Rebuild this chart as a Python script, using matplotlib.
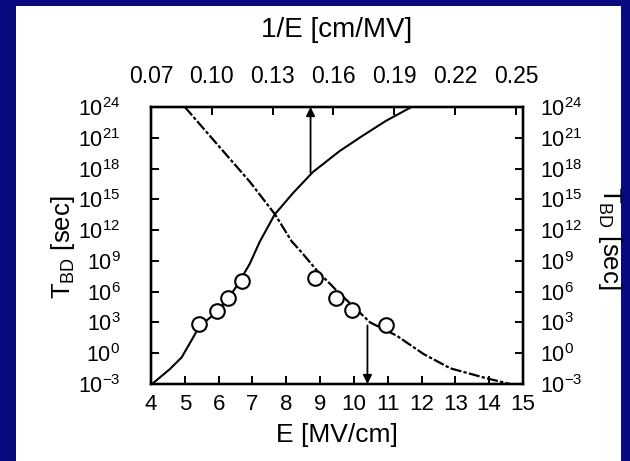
import math
import matplotlib
matplotlib.use("Agg")
import matplotlib.pyplot as plt
from matplotlib.patches import Rectangle
from matplotlib.ticker import FixedLocator, FuncFormatter, NullLocator

plt.rcParams['font.family'] = ['Liberation Sans', 'DejaVu Sans']
plt.rcParams['mathtext.fontset'] = 'custom'
plt.rcParams['mathtext.rm'] = 'Liberation Sans'
plt.rcParams['mathtext.it'] = 'Liberation Sans:italic'
plt.rcParams['mathtext.bf'] = 'Liberation Sans:bold'

# E-model fit: breakdown time vs field (bottom axis)
e_fit = [5.0, 5.94, 6.63, 6.93, 7.67, 8.16, 8.41, 8.95, 9.30, 9.49, 10.48, 11.27, 12.06, 12.85, 13.93, 14.62]
log_t_e_fit = [24.0, 20.43, 17.82, 16.68, 13.52, 10.9, 10.0, 7.89, 6.75, 6.10, 3.0, 1.70, -0.08, -1.47, -2.45, -3.0]

# 1/E-model fit: breakdown time vs inverse field (top axis)
inv_e_fit = [0.0705, 0.0793, 0.0851, 0.0908, 0.0938, 0.1023, 0.108, 0.1129, 0.1187, 0.1236, 0.131, 0.140, 0.1498, 0.163, 0.1744, 0.1859, 0.1985]
log_t_inv_fit = [-3.0, -1.55, -0.41, 1.54, 2.6, 3.98, 5.29, 6.75, 8.71, 10.85, 13.52, 15.6, 17.65, 19.7, 21.2, 22.65, 24.0]

# Measured breakdown times
e_meas = [8.85, 9.46, 9.95, 10.95]
log_t_e_meas = [7.34, 5.37, 4.18, 2.71]
inv_e_meas = [0.0938, 0.1028, 0.1080, 0.1151]
log_t_inv_meas = [2.8, 4.1, 5.35, 7.0]

# Arrows pointing to the axis each curve belongs to
arrow_e = 10.4
arrow_e_from = 2.7
arrow_inv = 0.1487
arrow_inv_from = 17.6

x_ticks = list(range(4, 16))
top_ticks = [0.07, 0.10, 0.13, 0.16, 0.19, 0.22, 0.25]
top_labels = ['0.07', '0.10', '0.13', '0.16', '0.19', '0.22', '0.25']
y_exps = list(range(-3, 25, 3))

W, H = 630, 461
fig = plt.figure(figsize=(W / 100, H / 100), dpi=100)
fig.patch.set_facecolor('#0a0a80')
panel = Rectangle((16 / W, 0), (621 - 16) / W, (H - 6) / H,
                  transform=fig.transFigure, facecolor='white',
                  edgecolor='none', zorder=-10)
fig.add_artist(panel)

L, R, T, B = 151, 523, 107, 384
ax = fig.add_axes([L / W, 1 - B / H, (R - L) / W, (B - T) / H])
ax.set_facecolor('none')
ax.set_yscale('log')
ax.set_xlim(4, 15)
ax.set_ylim(1e-3, 1e24)

axt = ax.twiny()
axt.set_facecolor('none')
axt.set_xlim(0.07, 0.2535)

axr = ax.twinx()
axr.set_facecolor('none')
axr.set_yscale('log')
axr.set_ylim(1e-3, 1e24)


def pw(v):
    return [10.0 ** k for k in v]


ax.plot(e_fit, pw(log_t_e_fit), color='black', lw=1.6,
        linestyle=(0, (5, 1.0, 1.5, 1.0)), zorder=3)
axt.plot(inv_e_fit, pw(log_t_inv_fit), color='black', lw=1.5, zorder=3)
ax.plot(e_meas, pw(log_t_e_meas), 'o', ms=10.5, mfc='white', mec='black', mew=1.5, zorder=4)
axt.plot(inv_e_meas, pw(log_t_inv_meas), 'o', ms=10.5, mfc='white', mec='black', mew=1.5, zorder=4)

ax.annotate('', xy=(arrow_e, 1e-3), xytext=(arrow_e, 10 ** arrow_e_from),
            arrowprops=dict(arrowstyle='-|>', color='black', lw=1.3, mutation_scale=13,
                            shrinkA=0, shrinkB=0), zorder=5)
axt.annotate('', xy=(arrow_inv, 1e24), xytext=(arrow_inv, 10 ** arrow_inv_from),
             arrowprops=dict(arrowstyle='-|>', color='black', lw=1.3, mutation_scale=13,
                             shrinkA=0, shrinkB=0), zorder=5)

log_fmt = FuncFormatter(lambda v, p: r'$\mathregular{10^{%d}}$' % round(math.log10(v)))

ax.xaxis.set_major_locator(FixedLocator(x_ticks))
ax.set_xticklabels([str(v) for v in x_ticks])
for a in (ax, axr):
    a.yaxis.set_major_locator(FixedLocator(pw(y_exps)))
    a.yaxis.set_minor_locator(NullLocator())
    a.yaxis.set_major_formatter(log_fmt)
axt.xaxis.set_major_locator(FixedLocator(top_ticks))
axt.set_xticklabels(top_labels)

for a in (ax, axt, axr):
    for s in a.spines.values():
        s.set_linewidth(1.6)

ax.tick_params(axis='x', which='major', direction='in', length=6, width=1.4,
               labelsize=16, pad=7, top=False)
ax.tick_params(axis='y', which='major', direction='in', length=6, width=1.4,
               labelsize=15.5, left=True, right=False, pad=22)
axr.tick_params(axis='y', which='major', direction='in', length=6, width=1.4,
                labelsize=15.5, pad=12)
axt.tick_params(axis='x', direction='in', length=6, width=1.4, labelsize=16.5, pad=14)

# heavier tick at 10^0 on both sides
for a in (ax, axr):
    for tk in a.yaxis.get_major_ticks():
        if abs(tk.get_loc() - 1.0) < 1e-9:
            for ln in (tk.tick1line, tk.tick2line):
                ln.set_markeredgewidth(5)

ax.set_xlabel('E [MV/cm]', fontsize=19, labelpad=6)
fig.text(337 / W, 1 - 30 / H, '1/E [cm/MV]', fontsize=20, ha='center', va='center')
fig.text(63 / W, 1 - 247 / H, r'T$_{\mathregular{BD}}$ [sec]', fontsize=18.5,
         rotation=90, ha='center', va='center')
fig.text(610 / W, 1 - 238 / H, r'T$_{\mathregular{BD}}$ [sec]', fontsize=18.5,
         rotation=270, ha='center', va='center')

fig.savefig('out.png', dpi=100, facecolor=fig.get_facecolor())
